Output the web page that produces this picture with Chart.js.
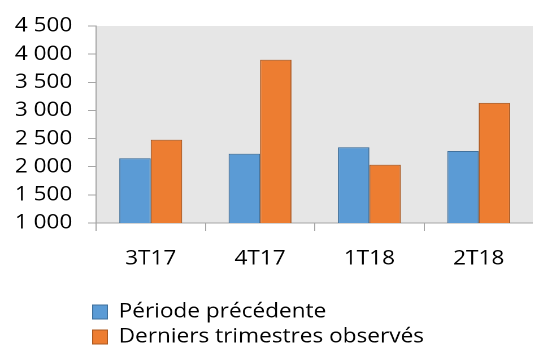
<!DOCTYPE html>
<html lang="fr">
<head>
<meta charset="utf-8">
<title>Période précédente / Derniers trimestres observés</title>
<script src="https://cdn.jsdelivr.net/npm/chart.js@4/dist/chart.umd.min.js"></script>
<style>
  html, body { margin: 0; padding: 0; background: #fff; overflow: hidden; }
  #wrap {
    width: 472px; height: 351px;
    transform: scaleX(1.13); transform-origin: 0 0;
  }
  canvas { display: block; }
</style>
</head>
<body>
<div id="wrap"><canvas id="chart" width="472" height="351"></canvas></div>
<script>
// Quarters shown on the x axis
const categories = ['3T17', '4T17', '1T18', '2T18'];
// Values for the previous period
const previousPeriod = [2150, 2230, 2345, 2280];
// Values for the latest observed quarters
const latestQuarters = [2480, 3900, 2035, 3135];
// Value axis ticks
const yTicks = [1000, 1500, 2000, 2500, 3000, 3500, 4000, 4500];

const fmt = v => String(v).replace(/\B(?=(\d{3})+(?!\d))/g, ' ');

// Grey fill behind the plot area
const plotBackground = {
  id: 'plotBackground',
  beforeDraw(chart) {
    const { ctx, chartArea: { left, top, width, height } } = chart;
    ctx.save();
    ctx.fillStyle = '#E6E6E6';
    ctx.fillRect(left, top, width, height);
    ctx.restore();
  }
};

// Line the legend up under the plot area instead of the canvas edge
const legendIndent = {
  id: 'legendIndent',
  afterLayout(chart) {
    if (chart.legend) chart.legend.left += 77;
  }
};

Chart.defaults.font.family = "'Open Sans', sans-serif";
Chart.defaults.font.size = 20;
Chart.defaults.color = '#000';

new Chart(document.getElementById('chart'), {
  type: 'bar',
  data: {
    labels: categories,
    datasets: [
      {
        label: 'Période précédente',
        data: previousPeriod,
        backgroundColor: '#5B9BD5',
        borderColor: '#41719C',
        borderWidth: 1
      },
      {
        label: 'Derniers trimestres observés',
        data: latestQuarters,
        backgroundColor: '#ED7D31',
        borderColor: '#AE5A21',
        borderWidth: 1
      }
    ]
  },
  options: {
    responsive: false,
    animation: false,
    devicePixelRatio: 2,
    layout: { padding: { left: 0, right: 0, top: 18, bottom: -6 } },
    datasets: { bar: { categoryPercentage: 0.575, barPercentage: 1 } },
    scales: {
      x: {
        grid: { drawOnChartArea: false, drawTicks: true, tickLength: 8, color: '#A6A6A6', offset: true },
        border: { color: '#A6A6A6', width: 1 },
        ticks: { padding: 16, color: '#000' },
        afterFit(scale) { scale.height = 74; }
      },
      y: {
        min: 1000,
        max: 4500,
        afterBuildTicks(scale) { scale.ticks = yTicks.map(v => ({ value: v })); },
        grid: { drawOnChartArea: false, drawTicks: true, tickLength: 7, color: '#A6A6A6' },
        border: { color: '#A6A6A6', width: 1 },
        ticks: { padding: 14, color: '#000', callback: v => fmt(v) },
        afterFit(scale) { scale.width = 85; }
      }
    },
    plugins: {
      legend: {
        position: 'bottom',
        align: 'start',
        labels: { boxWidth: 13, boxHeight: 14, padding: 5, color: '#000' }
      },
      tooltip: { enabled: false }
    }
  },
  plugins: [plotBackground, legendIndent]
});
</script>
</body>
</html>
